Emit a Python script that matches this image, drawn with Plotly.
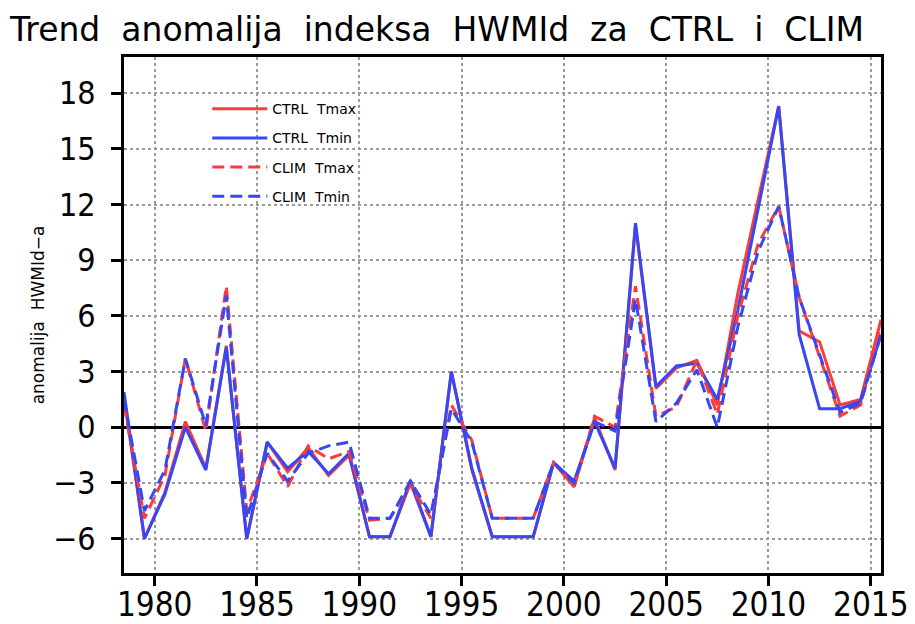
import plotly.graph_objects as go

years = list(range(1978, 2016))

ctrl_tmax = [1.6, -6.0, -3.5, 0.3, -2.2, 4.4, -6.0, -0.8, -2.4, -1.1,
             -2.6, -1.5, -5.9, -5.9, -3.0, -5.9, 3.0, -2.3, -5.9, -5.9,
             -5.9, -1.9, -3.2, 0.5, -2.3, 10.9, 2.1, 3.2, 3.6, 1.2,
             7.2, 12.3, 17.3, 5.2, 4.6, 1.2, 1.5, 5.8]
ctrl_tmin = [1.9, -6.0, -3.6, 0.0, -2.3, 4.3, -6.0, -0.8, -2.2, -1.3,
             -2.5, -1.4, -5.9, -5.9, -2.85, -5.9, 3.0, -2.2, -5.9, -5.9,
             -5.9, -1.9, -2.9, 0.3, -2.2, 11.0, 2.2, 3.3, 3.45, 1.5,
             6.3, 11.8, 17.3, 5.0, 1.0, 1.0, 1.4, 5.0]
clim_tmax = [1.2, -4.9, -2.6, 3.7, -0.2, 7.6, -4.5, -1.4, -3.2, -1.0,
             -1.7, -1.3, -5.0, -4.9, -3.1, -4.9, 1.2, -0.7, -4.9, -4.9,
             -4.9, -1.9, -3.2, 0.6, 0.0, 7.6, 0.6, 1.1, 3.6, 0.7,
             6.0, 9.9, 11.9, 7.0, 3.8, 0.6, 1.2, 5.6]
clim_tmin = [1.5, -4.5, -2.3, 3.7, 0.1, 7.1, -4.9, -1.4, -2.9, -1.4,
             -1.0, -0.8, -4.9, -4.9, -2.9, -4.7, 1.0, -0.8, -4.9, -4.9,
             -4.9, -1.9, -3.0, 0.3, -0.2, 6.9, 0.3, 1.3, 3.1, 0.0,
             5.4, 9.5, 11.9, 7.0, 3.9, 0.8, 1.3, 5.0]

series_names = ["CTRL\u00a0\u00a0Tmax", "CTRL\u00a0\u00a0Tmin", "CLIM\u00a0\u00a0Tmax", "CLIM\u00a0\u00a0Tmin"]
x_ticks = [1980, 1985, 1990, 1995, 2000, 2005, 2010, 2015]
y_ticks = [-6, -3, 0, 3, 6, 9, 12, 15, 18]

RED = "#ff3a3a"
BLUE = "#3548f4"
xs = [y + 0.5 for y in years]

fig = go.Figure()
styles = [(RED, "solid"), (BLUE, "solid"), (RED, "12px,6px"), (BLUE, "12px,6px")]
for name, vals, (col, dash), grp in zip(series_names, [ctrl_tmax, ctrl_tmin, clim_tmax, clim_tmin], styles, "abcd"):
    fig.add_trace(go.Scatter(x=xs, y=vals, mode="lines", name=name, legendgroup=grp,
                             line=dict(color=col, width=3, dash=dash)))

fam = "DejaVu Sans Condensed, DejaVu Sans"
fig.update_layout(
    width=907, height=616,
    paper_bgcolor="white", plot_bgcolor="white",
    margin=dict(l=116, r=34, t=49, b=51),
    title=dict(text="Trend\u00a0\u00a0anomalija\u00a0\u00a0indeksa\u00a0\u00a0HWMId\u00a0\u00a0za\u00a0\u00a0CTRL\u00a0\u00a0i\u00a0\u00a0CLIM",
               x=2/907, xref="container", xanchor="left", y=0.984, yref="container", yanchor="top",
               font=dict(family="DejaVu Sans", size=33, color="black")),
    showlegend=True,
    legend=dict(x=0.11, y=0.93, xanchor="left", yanchor="top", bgcolor="rgba(0,0,0,0)",
                font=dict(family="DejaVu Sans", size=14, color="black"),
                traceorder="grouped", tracegroupgap=8, itemwidth=55),
    xaxis=dict(range=[1978.5, 2015.5], tickvals=x_ticks, ticktext=[str(v) for v in x_ticks],
               showline=True, mirror=True, linecolor="black", linewidth=3,
               ticks="outside", ticklen=10, tickwidth=3, tickcolor="black",
               showgrid=True, gridcolor="#9a9a9a", gridwidth=2, griddash="dot",
               zeroline=False, tickfont=dict(family=fam, size=33, color="black"),
               ticklabelstandoff=-10, automargin=False),
    yaxis=dict(range=[-7.85, 19.95], tickvals=y_ticks, ticktext=[str(v).replace("-", "\u2212") for v in y_ticks],
               showline=True, mirror=True, linecolor="black", linewidth=3,
               ticks="outside", ticklen=10, tickwidth=3, tickcolor="black",
               showgrid=True, gridcolor="#9a9a9a", gridwidth=2, griddash="dot",
               zeroline=True, zerolinecolor="black", zerolinewidth=2.5,
               tickfont=dict(family=fam, size=32, color="black"), ticklabelstandoff=9,
               automargin=False,
               title=dict(text="anomalija\u00a0\u00a0HWMId\u2212a", standoff=5,
                          font=dict(family="DejaVu Sans", size=17, color="black"))),
)

fig.write_html("out.html")
